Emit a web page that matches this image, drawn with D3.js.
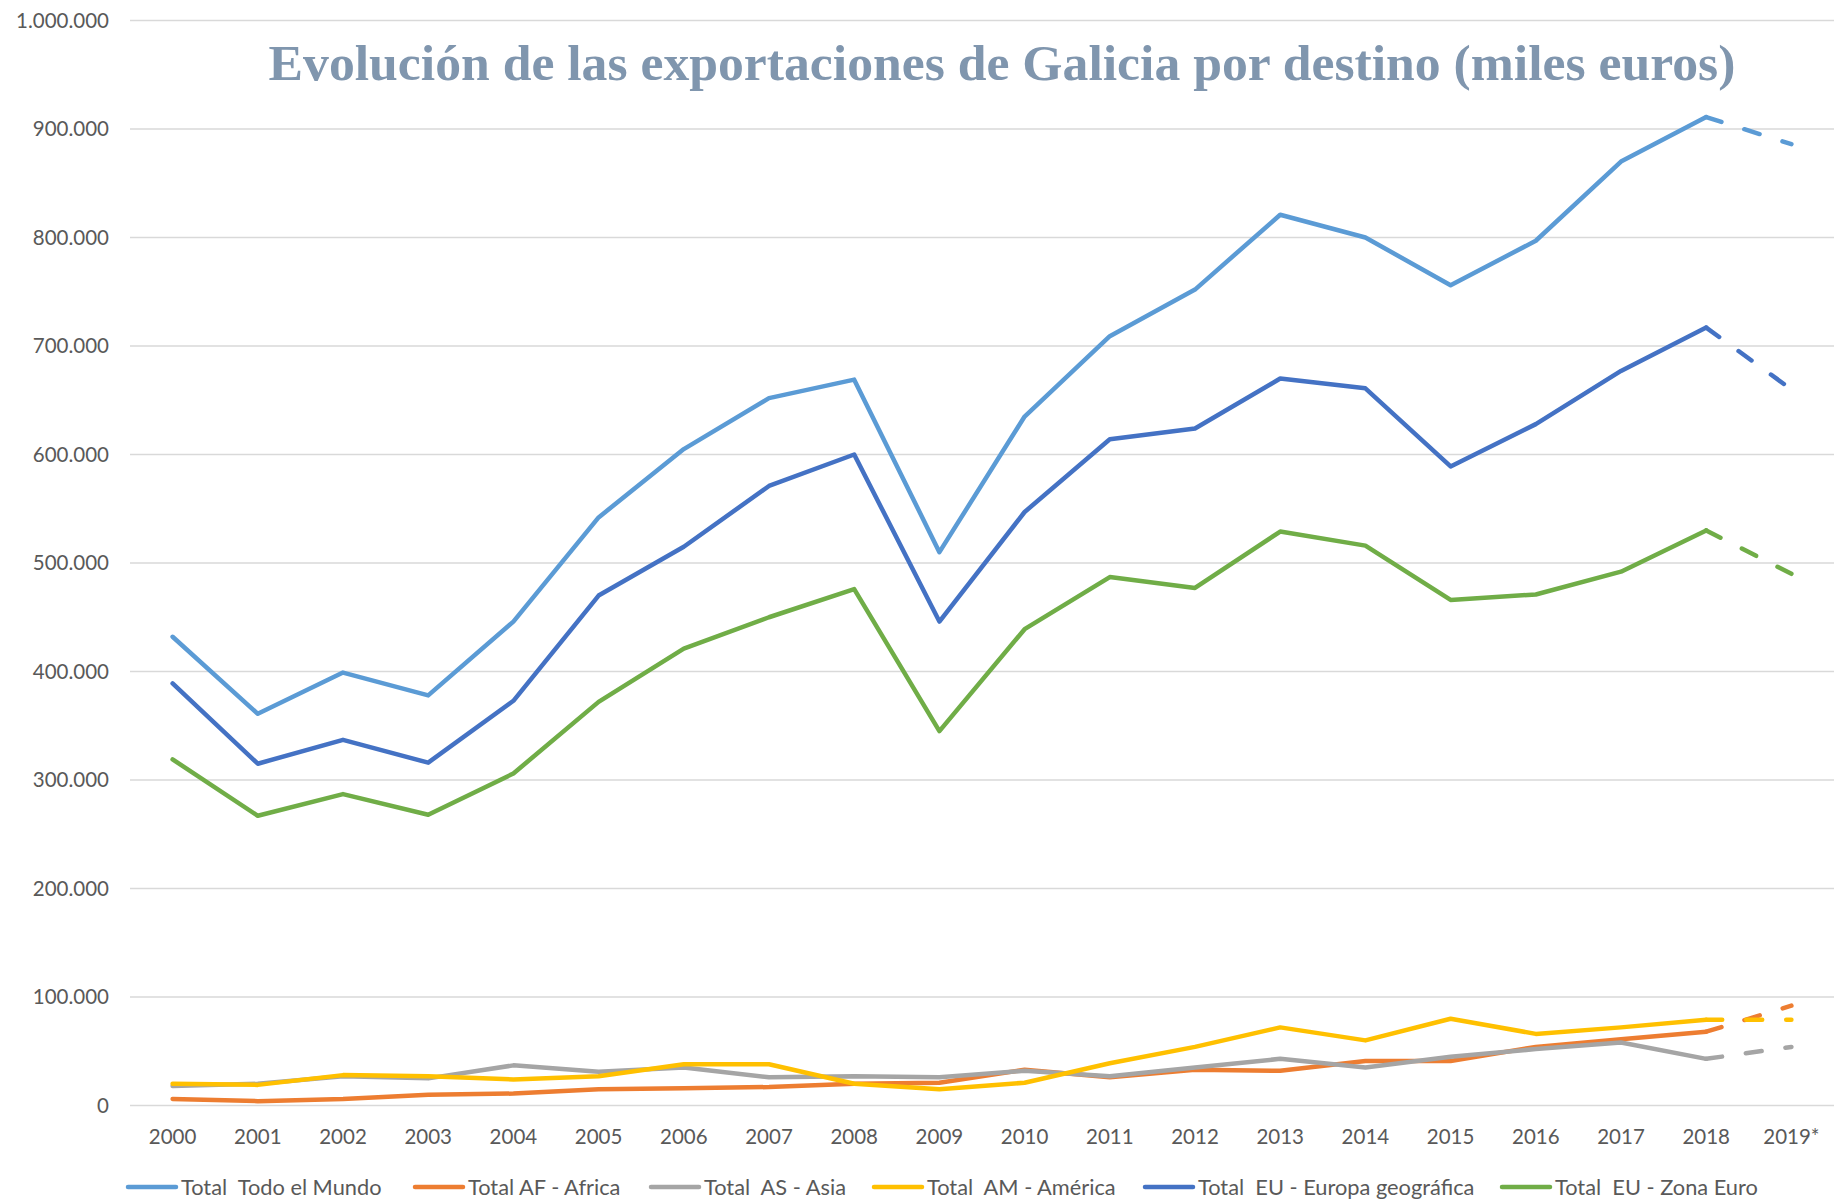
<!DOCTYPE html>
<html><head><meta charset="utf-8">
<script src="https://cdn.jsdelivr.net/npm/d3@7"></script>
<style>body{margin:0;background:#fff}svg{display:block}</style>
</head><body>
<script>
const years = ["2000","2001","2002","2003","2004","2005","2006","2007","2008","2009","2010","2011","2012","2013","2014","2015","2016","2017","2018","2019*"];
const mundo  = [432,361,399,378,446,542,605,652,669,510,635,709,752,821,800,756,797,870,911,886];
const africa = [6,4,6,10,11,15,16,17,20,21,33,26,33,32,41,41,54,61,68,92];
const asia   = [18,20,27,25,37,31,35,26,27,26,32,27,35,43,35,45,52,58,43,54];
const america= [20,19,28,27,24,27,38,38,20,15,21,39,54,72,60,80,66,72,79,79];
const europa = [389,315,337,316,373,470,515,571,600,446,547,614,624,670,661,589,628,677,717,660];
const zonaEuro=[319,267,287,268,306,372,421,450,476,345,439,487,477,529,516,466,471,492,530,490];
const seriesNames = ["Total  Todo el Mundo","Total AF - Africa","Total  AS - Asia","Total  AM - América","Total  EU - Europa geográfica","Total  EU - Zona Euro"];
const seriesData = [mundo, africa, asia, america, europa, zonaEuro];
const colors = ["#5B9BD5","#ED7D31","#A5A5A5","#FFC000","#4472C4","#70AD47"];
const yTicks = [0,100000,200000,300000,400000,500000,600000,700000,800000,900000,1000000];
const title = "Evolución de las exportaciones de Galicia por destino (miles euros)";

const W=1834,H=1199;
const svg=d3.select("body").append("svg").attr("width",W).attr("height",H);
const x=d3.scaleBand().domain(years).range([130,1834]);
const y=d3.scaleLinear().domain([0,1000000]).range([1105.5,20.5]);
const fmt=v=>v===0?"0":d3.format(",")(v).replace(/,/g,".");

// gridlines
svg.append("g").selectAll("line").data(yTicks).join("line")
  .attr("x1",130).attr("x2",W).attr("y1",d=>y(d)).attr("y2",d=>y(d))
  .attr("stroke","#d9d9d9").attr("stroke-width",1.5);

// y axis labels
const yAxis=d3.axisLeft(y).tickValues(yTicks).tickFormat(fmt).tickSize(0).tickPadding(0);
const gy=svg.append("g").attr("transform","translate(109,0)").call(yAxis);
gy.select(".domain").remove();
gy.selectAll("text").attr("font-family","Lato, sans-serif").attr("font-size",20.5).attr("fill","#595959");

// x axis labels
const xAxis=d3.axisBottom(x).tickSize(0).tickPadding(0);
const gx=svg.append("g").attr("transform","translate(0,1129)").call(xAxis);
gx.select(".domain").remove();
gx.selectAll("text").attr("font-family","Lato, sans-serif").attr("font-size",20.5).attr("fill","#595959");

// title
const t=svg.append("text").attr("x",1002).attr("y",80).attr("text-anchor","middle")
  .attr("font-family","'Liberation Serif', serif").attr("font-weight","bold").attr("font-size",57)
  .attr("fill","#8096AE").text(title);
const tw=t.node().getComputedTextLength();
t.attr("font-size",57*1467/tw);

// lines
const line=d3.line().x((d,i)=>x(years[i])+x.bandwidth()/2).y(d=>y(d*1000));
seriesData.forEach((s,k)=>{
  const g=svg.append("g");
  const solid=s.slice(0,19);
  g.append("path").attr("d",line(solid)).attr("fill","none").attr("stroke",colors[k])
    .attr("stroke-width",4.5).attr("stroke-linejoin","round").attr("stroke-linecap","round");
  const l2=d3.line().x(d=>x(years[d])+x.bandwidth()/2).y(d=>y(s[d]*1000));
  g.append("path").attr("d",l2([18,19])).attr("fill","none").attr("stroke",colors[k])
    .attr("stroke-width",4.5).attr("stroke-linecap","round").attr("stroke-dasharray","16,24");
});

// legend
const legX=[126,413,649,872,1143,1500];
const lg=svg.append("g");
seriesNames.forEach((n,k)=>{
  lg.append("line").attr("x1",legX[k]+2).attr("x2",legX[k]+50).attr("y1",1187).attr("y2",1187)
    .attr("stroke",colors[k]).attr("stroke-width",4.5).attr("stroke-linecap","round");
  lg.append("text").attr("x",legX[k]+55).attr("y",1187).attr("dy","0.35em")
    .attr("font-family","Lato, sans-serif").attr("font-size",21.8).attr("fill","#595959")
    .attr("xml:space","preserve").style("white-space","pre").text(n);
});
</script>
</body></html>
